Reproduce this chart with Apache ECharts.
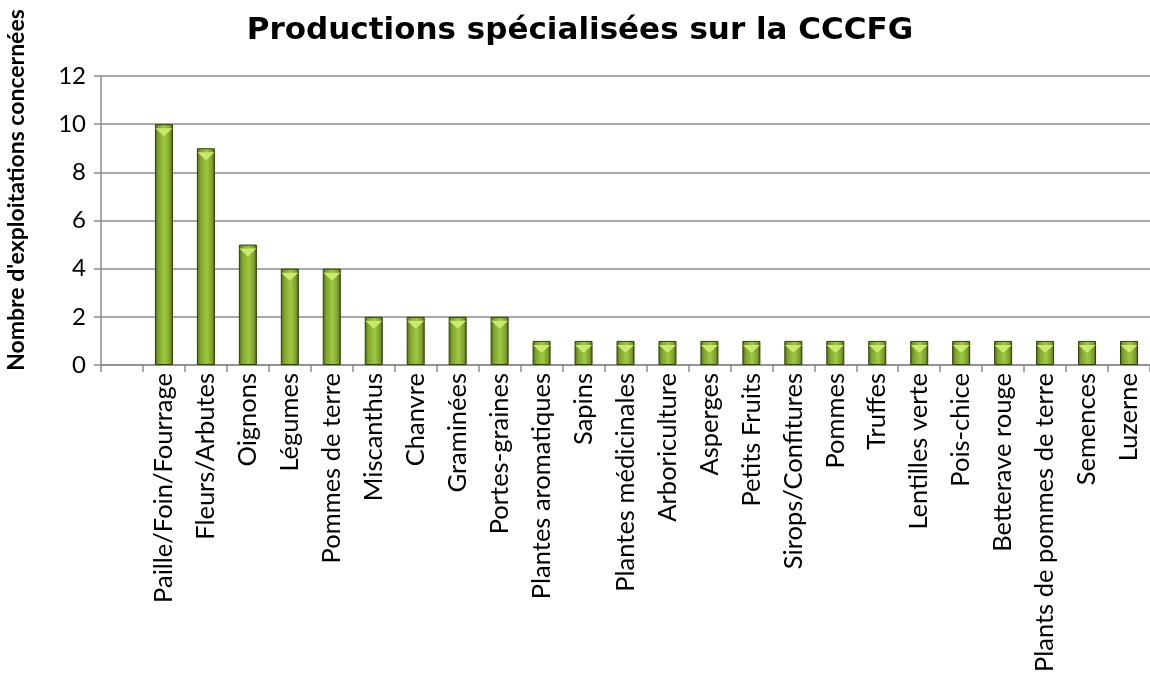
<!DOCTYPE html>
<html>
<head>
	<meta charset="utf-8">
	<title>Productions spécialisées</title>
	<script src="https://cdn.jsdelivr.net/npm/echarts@6/dist/echarts.min.js"></script>
	<style>
		html, body { margin: 0; padding: 0; background: #fff; }
		#main { width: 1150px; height: 677px; }
	</style>
</head>
<body>
	<div id="main"></div>
	<script>
		// categories (first slot is left empty, as in the original sheet)
		var categories = ['', 'Paille/Foin/Fourrage', 'Fleurs/Arbutes', 'Oignons', 'Légumes', 'Pommes de terre',
			'Miscanthus', 'Chanvre', 'Graminées', 'Portes-graines', 'Plantes aromatiques', 'Sapins',
			'Plantes médicinales', 'Arboriculture', 'Asperges', 'Petits Fruits', 'Sirops/Confitures',
			'Pommes', 'Truffes', 'Lentilles verte', 'Pois-chice', 'Betterave rouge',
			'Plants de pommes de terre', 'Semences', 'Luzerne'];
		var counts = [null, 10, 9, 5, 4, 4, 2, 2, 2, 2, 1, 1, 1, 1, 1, 1, 1, 1, 1, 1, 1, 1, 1, 1, 1];
		var yTicks = [0, 2, 4, 6, 8, 10, 12];

		var chart = echarts.init(document.getElementById('main'), null, { renderer: 'canvas' });

		var barColor = new echarts.graphic.LinearGradient(0, 0, 1, 0, [
			{ offset: 0, color: '#4f6a16' },
			{ offset: 0.2, color: '#80a52e' },
			{ offset: 0.55, color: '#a0c842' },
			{ offset: 0.85, color: '#7a9e2a' },
			{ offset: 1, color: '#405812' }
		]);

		var option = {
			animation: false,
			title: {
				text: 'Productions spécialisées sur la CCCFG',
				left: 575,
				textAlign: 'center',
				top: 10,
				textStyle: {
					fontFamily: 'DejaVu Sans',
					fontWeight: 'bold',
					fontSize: 31,
					color: '#000'
				}
			},
			// y axis title, placed where the original puts it (not centred on the axis)
			graphic: [{
				type: 'text',
				x: 17,
				y: 190,
				rotation: Math.PI / 2,
				style: {
					text: "Nombre d'exploitations concernées",
					font: 'bold 23px Lato',
					fill: '#000',
					align: 'center',
					verticalAlign: 'middle'
				}
			}],
			grid: {
				left: 101,
				right: 0,
				top: 76,
				bottom: 312,
				outerBoundsMode: 'none'
			},
			xAxis: {
				type: 'category',
				data: categories,
				axisLine: { lineStyle: { color: '#8c8c8c', width: 1.5 } },
				axisTick: { show: true, length: 7, alignWithLabel: false, lineStyle: { color: '#8c8c8c', width: 1.5 } },
				axisLabel: {
					interval: 0,
					rotate: 90,
					margin: 8,
					fontFamily: 'Lato',
					fontSize: 25.5,
					color: '#000'
				}
			},
			yAxis: {
				type: 'value',
				min: yTicks[0],
				max: yTicks[yTicks.length - 1],
				interval: 2,
				axisLine: { show: true, lineStyle: { color: '#8c8c8c', width: 1.5 } },
				axisTick: { show: true, length: 7, lineStyle: { color: '#8c8c8c', width: 1.5 } },
				splitLine: { lineStyle: { color: '#8c8c8c', width: 1.5 } },
				axisLabel: {
					margin: 15,
					fontFamily: 'Lato',
					fontSize: 24,
					color: '#000'
				}
			},
			series: [
				{
					type: 'bar',
					data: counts,
					barWidth: 18,
					itemStyle: {
						color: barColor,
						borderColor: '#2f3f0a',
						borderWidth: 1
					}
				},
				{
					// light bevel at the top of each bar
					type: 'pictorialBar',
					data: counts,
					symbol: 'path://M0,0 L10,0 L5,4 Z',
					symbolSize: [17, 8],
					symbolPosition: 'end',
					symbolOffset: [0, '50%'],
					z: 5,
					itemStyle: { color: '#cbe96e' },
					silent: true
				}
			]
		};

		chart.setOption(option);
	</script>
</body>
</html>
